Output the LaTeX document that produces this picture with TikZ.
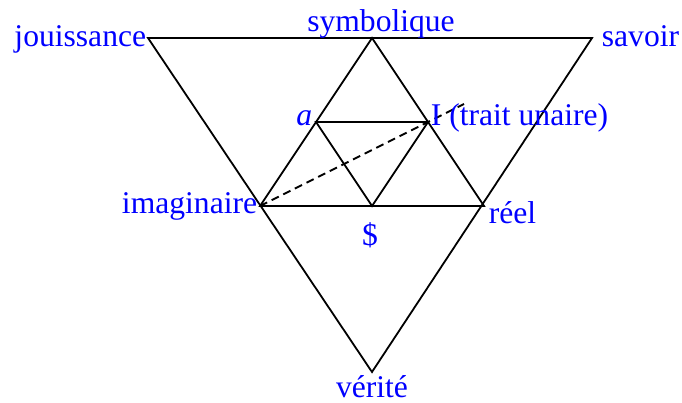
\documentclass[tikz,border=0pt]{standalone}
\usepackage{fontspec}
\setmainfont{Liberation Serif}
\begin{document}
\begin{tikzpicture}[x=1pt,y=-1pt,line width=1.8pt,
  lbl/.style={text=blue,font=\fontsize{31.6}{38}\selectfont,inner sep=0pt},
  dsh/.style={dash pattern=on 8pt off 5pt}]
\useasboundingbox (0,0) rectangle (682,403);
\coordinate (J) at (148,38);
\coordinate (S) at (592,38);
\coordinate (V) at (372,372);
\coordinate (Sy) at (372,38);
\coordinate (Im) at (260,206);
\coordinate (Re) at (484,206);
\coordinate (A) at (316,122);
\coordinate (I) at (428,122);
\coordinate (B) at (372,206);
\coordinate (De) at (464,104);
\draw (J) -- (S) -- (V) -- cycle;
\draw (Sy) -- (Im) -- (Re) -- cycle;
\draw (A) -- (I) -- (B) -- cycle;
\draw[dsh] (Im) -- (De);
\node[lbl,anchor=base east] (tj) at (147,47) {jouissance};
\node[lbl,anchor=base] (ts) at (381,32) {symbolique};
\node[lbl,anchor=base west] (tsv) at (601,47) {savoir};
\node[lbl,anchor=base east] (ta) at (313,126) {\itshape a};
\node[lbl,anchor=base west] (ti) at (430,126) {I (trait unaire)};
\node[lbl,anchor=base east] (tim) at (258,214) {imaginaire};
\node[lbl,anchor=base west] (tr) at (488,224) {réel};
\node[lbl,anchor=base] (td) at (370,246) {\$};
\node[lbl,anchor=base] (tv) at (372,397) {vérité};
\end{tikzpicture}
\end{document}
